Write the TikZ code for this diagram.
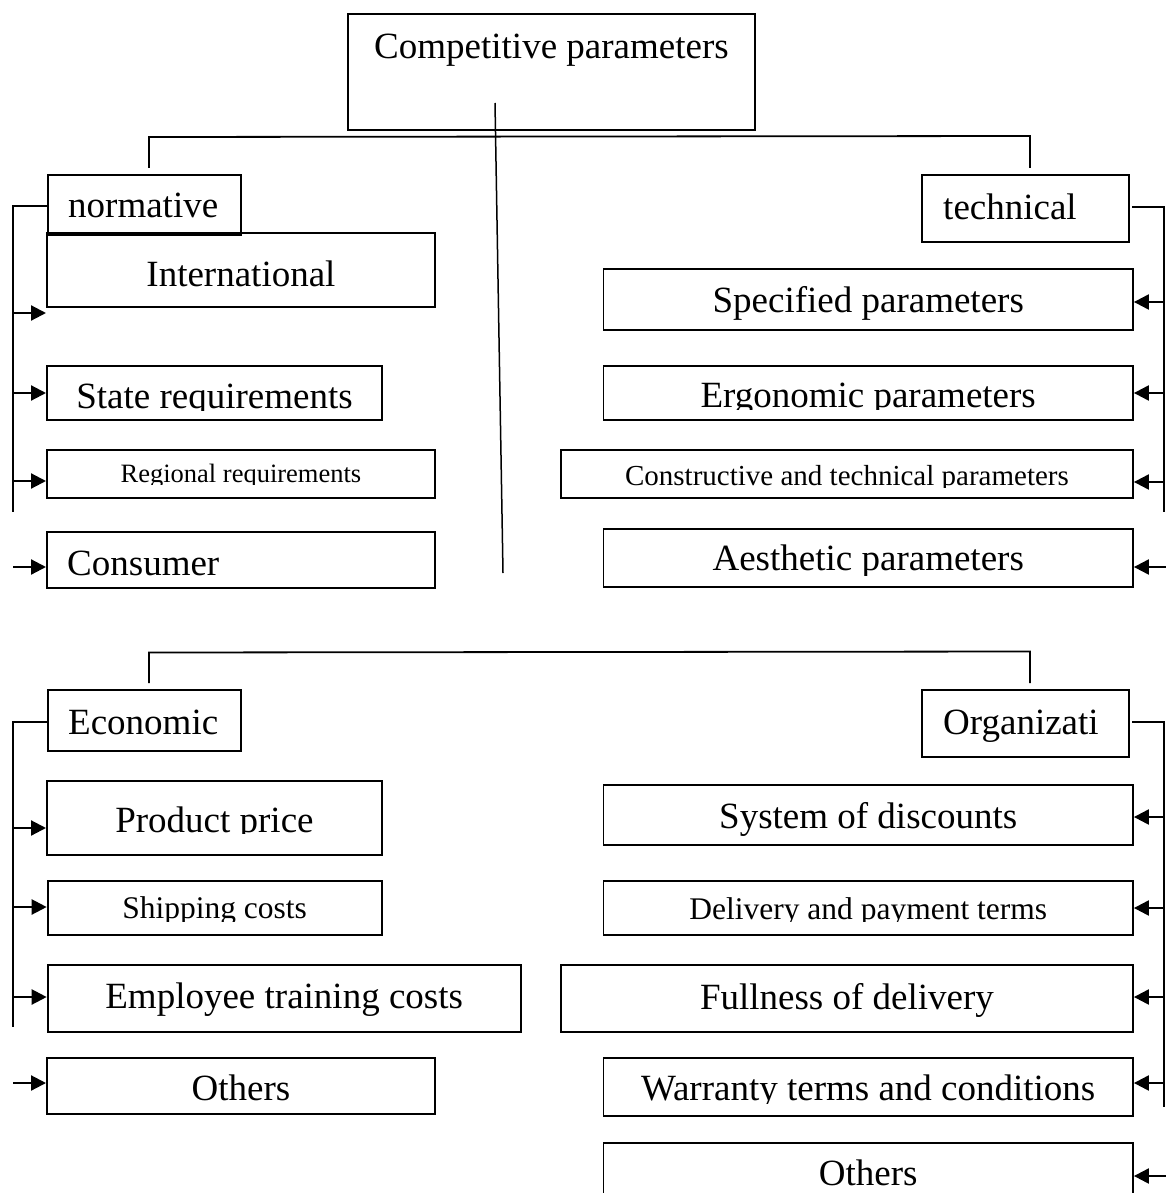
\documentclass[tikz,border=0pt]{standalone}
\usepackage{fontspec}
\setmainfont{Liberation Serif}
\usetikzlibrary{arrows.meta}
\begin{document}
\begin{tikzpicture}[x=1pt,y=-1pt,
  box/.style={draw, line width=1.9pt, inner sep=0pt, anchor=north west},
  lbig/.style={font=\fontsize{37}{40}\selectfont, anchor=base, inner sep=0pt},
  lmid/.style={font=\fontsize{31.5}{34}\selectfont, anchor=base, inner sep=0pt},
  lsmall/.style={font=\fontsize{29}{32}\selectfont, anchor=base, inner sep=0pt},
  ltiny/.style={font=\fontsize{26.5}{29}\selectfont, anchor=base, inner sep=0pt},
  wire/.style={line width=1.8pt},
  arr/.style={line width=2.2pt, -{Triangle[length=15pt,width=15pt]}}]
\clip (0,0) rectangle (1166,1193);

% ---------- boxes ----------
\node[box, minimum width=407pt, minimum height=116pt] (top) at (347,13) {};
\node[box, minimum width=388pt, minimum height=74pt] (intl) at (46,232) {};
\node[box, minimum width=193pt, minimum height=60pt] (norm) at (47,174) {};
\node[box, minimum width=335pt, minimum height=54pt] (state) at (46,365) {};
\node[box, minimum width=388pt, minimum height=48pt] (regional) at (46,449) {};
\node[box, minimum width=388pt, minimum height=56pt] (consumer) at (46,531) {};
\node[box, minimum width=207pt, minimum height=67pt] (tech) at (921,174) {};
\node[box, minimum width=529.5pt, minimum height=61pt] (spec) at (602.5,268) {};
\node[box, minimum width=529.5pt, minimum height=54pt] (ergo) at (602.5,365) {};
\node[box, minimum width=572pt, minimum height=48pt] (constr) at (560,449) {};
\node[box, minimum width=529.5pt, minimum height=58pt] (aesth) at (602.5,528) {};
\node[box, minimum width=193pt, minimum height=61pt] (econ) at (47,689) {};
\node[box, minimum width=335pt, minimum height=74pt] (price) at (46,780) {};
\node[box, minimum width=334pt, minimum height=54pt] (ship) at (46.7,880) {};
\node[box, minimum width=473pt, minimum height=67pt] (train) at (46.7,964) {};
\node[box, minimum width=388pt, minimum height=56pt] (othL) at (46,1057) {};
\node[box, minimum width=207pt, minimum height=67pt] (org) at (921,689) {};
\node[box, minimum width=529.5pt, minimum height=60pt] (disc) at (602.5,784) {};
\node[box, minimum width=529.5pt, minimum height=54pt] (deliv) at (602.5,880) {};
\node[box, minimum width=572pt, minimum height=67pt] (full) at (560,964) {};
\node[box, minimum width=529.5pt, minimum height=58pt] (warr) at (602.5,1057) {};
\node[box, minimum width=529.5pt, minimum height=70pt] (othR) at (602.5,1142) {};

% ---------- labels ----------
\node[lbig] (t-top) at (top.center |- 0,59) {Competitive parameters};
\node[lbig, anchor=base west] (t-norm) at (68,218) {normative};
\node[lbig] (t-intl) at (intl.center |- 0,286) {International};
\begin{scope}
  \clip (state.north west) rectangle (state.east |- 0,410);
  \node[lbig] (t-state) at (state.center |- 0,408) {State requirements};
\end{scope}
\begin{scope}
  \clip (regional.north west) rectangle (regional.east |- 0,484.5);
  \node[ltiny] (t-regional) at (regional.center |- 0,482.7) {Regional requirements};
\end{scope}
\node[lbig, anchor=base west] (t-consumer) at (67,575) {Consumer};

\node[lbig, anchor=base west] (t-tech) at (943,219) {technical};
\node[lbig] (t-spec) at (spec.center |- 0,312) {Specified parameters};
\begin{scope}
  \clip (ergo.north west) rectangle (ergo.east |- 0,409);
  \node[lbig] (t-ergo) at (ergo.center |- 0,407) {Ergonomic parameters};
\end{scope}
\begin{scope}
  \clip (constr.north west) rectangle (constr.east |- 0,487.5);
  \node[lsmall] (t-constr) at (constr.center |- 0,485.7) {Constructive and technical parameters};
\end{scope}
\begin{scope}
  \clip (aesth.north west) rectangle (aesth.east |- 0,575.5);
  \node[lbig] (t-aesth) at (aesth.center |- 0,570.7) {Aesthetic parameters};
\end{scope}

\node[lbig, anchor=base west] (t-econ) at (68,734) {Economic};
\begin{scope}
  \clip (price.north west) rectangle (price.east |- 0,833.5);
  \node[lbig] (t-price) at (price.center |- 0,832) {Product price};
\end{scope}
\begin{scope}
  \clip (ship.north west) rectangle (ship.east |- 0,921.7);
  \node[lmid] (t-ship) at (ship.center |- 0,918) {Shipping costs};
\end{scope}
\node[lbig] (t-train) at (train.center |- 0,1008) {Employee training costs};
\node[lbig] (t-othL) at (othL.center |- 0,1100) {Others};

\node[lbig, anchor=base west] (t-org) at (943,734) {Organizati};
\node[lbig] (t-disc) at (disc.center |- 0,828) {System of discounts};
\begin{scope}
  \clip (deliv.north west) rectangle (deliv.east |- 0,921.7);
  \node[lmid] (t-deliv) at (deliv.center |- 0,919) {Delivery and payment terms};
\end{scope}
\node[lbig] (t-full) at (full.center |- 0,1009) {Fullness of delivery};
\begin{scope}
  \clip (warr.north west) rectangle (warr.east |- 0,1103);
  \node[lbig] (t-warr) at (warr.center |- 0,1100) {Warranty terms and conditions};
\end{scope}
\node[lbig] (t-othR) at (othR.center |- 0,1185) {Others};

% ---------- tree connectors ----------
\coordinate (hL1) at (149,137);
\coordinate (hR1) at (1030,136);
\draw[wire] (149,168) -- (hL1) -- (hR1) -- (1030,168);
\coordinate (sA) at (495,103);
\coordinate (sB) at (503,573);
\draw[line width=1.5pt] (sA) -- (sB);

\coordinate (hL2) at (149,652.5);
\coordinate (hR2) at (1030,651.5);
\draw[wire] (149,683) -- (hL2) -- (hR2) -- (1030,683);

% ---------- left bus, upper group ----------
\coordinate (lb1) at (13,206);
\coordinate (lb1e) at (13,512);
\draw[wire] (norm.west |- lb1) -- (lb1) -- (lb1e);
\draw[arr] (lb1 |- 0,313) -- (intl.west |- 0,313);
\draw[arr] (lb1 |- 0,393) -- (state.west |- 0,393);
\draw[arr] (lb1 |- 0,481) -- (regional.west |- 0,481);
\coordinate (cfree) at (13,567);
\draw[arr] (cfree) -- (consumer.west |- cfree);

% ---------- right bus, upper group ----------
\coordinate (rb1) at (1164,207);
\coordinate (rb1e) at (1164,512);
\draw[wire] (1132,207) -- (rb1) -- (rb1e);
\draw[arr] (rb1 |- 0,302) -- (spec.east |- 0,302);
\draw[arr] (rb1 |- 0,393) -- (ergo.east |- 0,393);
\draw[arr] (rb1 |- 0,482) -- (constr.east |- 0,482);
\coordinate (afree) at (1166,567);
\draw[arr] (afree) -- (aesth.east |- afree);

% ---------- left bus, lower group ----------
\coordinate (lb2) at (13,722);
\coordinate (lb2e) at (13,1027);
\draw[wire] (econ.west |- lb2) -- (lb2) -- (lb2e);
\draw[arr] (lb2 |- 0,828) -- (price.west |- 0,828);
\draw[arr] (lb2 |- 0,907) -- (ship.west |- 0,907);
\draw[arr] (lb2 |- 0,997) -- (train.west |- 0,997);
\coordinate (ofree) at (13,1083);
\draw[arr] (ofree) -- (othL.west |- ofree);

% ---------- right bus, lower group ----------
\coordinate (rb2) at (1164,722);
\coordinate (rb2e) at (1164,1107);
\draw[wire] (1132,722) -- (rb2) -- (rb2e);
\draw[arr] (rb2 |- 0,817) -- (disc.east |- 0,817);
\draw[arr] (rb2 |- 0,908) -- (deliv.east |- 0,908);
\draw[arr] (rb2 |- 0,997) -- (full.east |- 0,997);
\draw[arr] (rb2 |- 0,1083) -- (warr.east |- 0,1083);
\coordinate (rfree) at (1166,1176);
\draw[arr] (rfree) -- (othR.east |- rfree);
\end{tikzpicture}
\end{document}
